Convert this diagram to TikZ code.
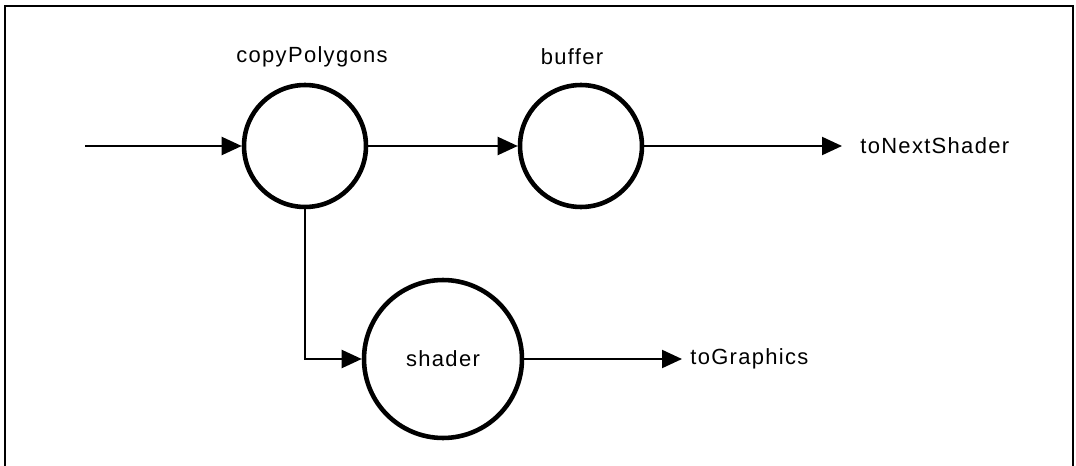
\documentclass[tikz,border=0pt]{standalone}
\usepackage{fontspec}
\setmainfont{Liberation Sans}[LetterSpace=6]
\usetikzlibrary{arrows.meta, positioning}

\begin{document}
\begin{tikzpicture}[
  x=0.02cm, y=-0.02cm,
  proc/.style={circle, draw, line width=2.6pt, minimum size=2.44cm, inner sep=0pt,
               font=\fontsize{12.5}{14}\selectfont},
  lbl/.style={inner sep=0pt, font=\fontsize{12.5}{14}\selectfont},
  arr/.style={-{Triangle[length=0.4cm, width=0.36cm]}, line width=1.2pt},
]
\useasboundingbox (0,0) rectangle (1076,466);
% open frame
\draw[line width=1.2pt] (5,466) -- (5,6) -- (1073,6) -- (1073,466);

\node[proc] (copy) at (305,146) {};
\node[proc] (buffer) at (581,146) {};
\node[proc, minimum size=3.16cm] (shader) at (443,359) {shader};

\node[lbl] (copyLbl) at (312,57) {copyPolygons};
\node[lbl] (bufferLbl) at (572,57) {buffer};

\coordinate (inStart) at (85,146);
\coordinate (nextEnd) at (842,146);
\coordinate (gfxEnd) at (682,359);
\node[lbl, right=0.36cm of nextEnd] (nextLbl) {toNextShader};
\node[lbl, right=0.16cm of gfxEnd] (gfxLbl) {toGraphics};

\draw[arr] (inStart) -- (copy.west);
\draw[arr] (copy.east) -- (buffer.west);
\draw[arr] (buffer.east) -- (nextEnd);
\draw[arr] (copy.south) |- (shader.west);
\draw[arr] (shader.east) -- (gfxEnd);

\end{tikzpicture}
\end{document}
